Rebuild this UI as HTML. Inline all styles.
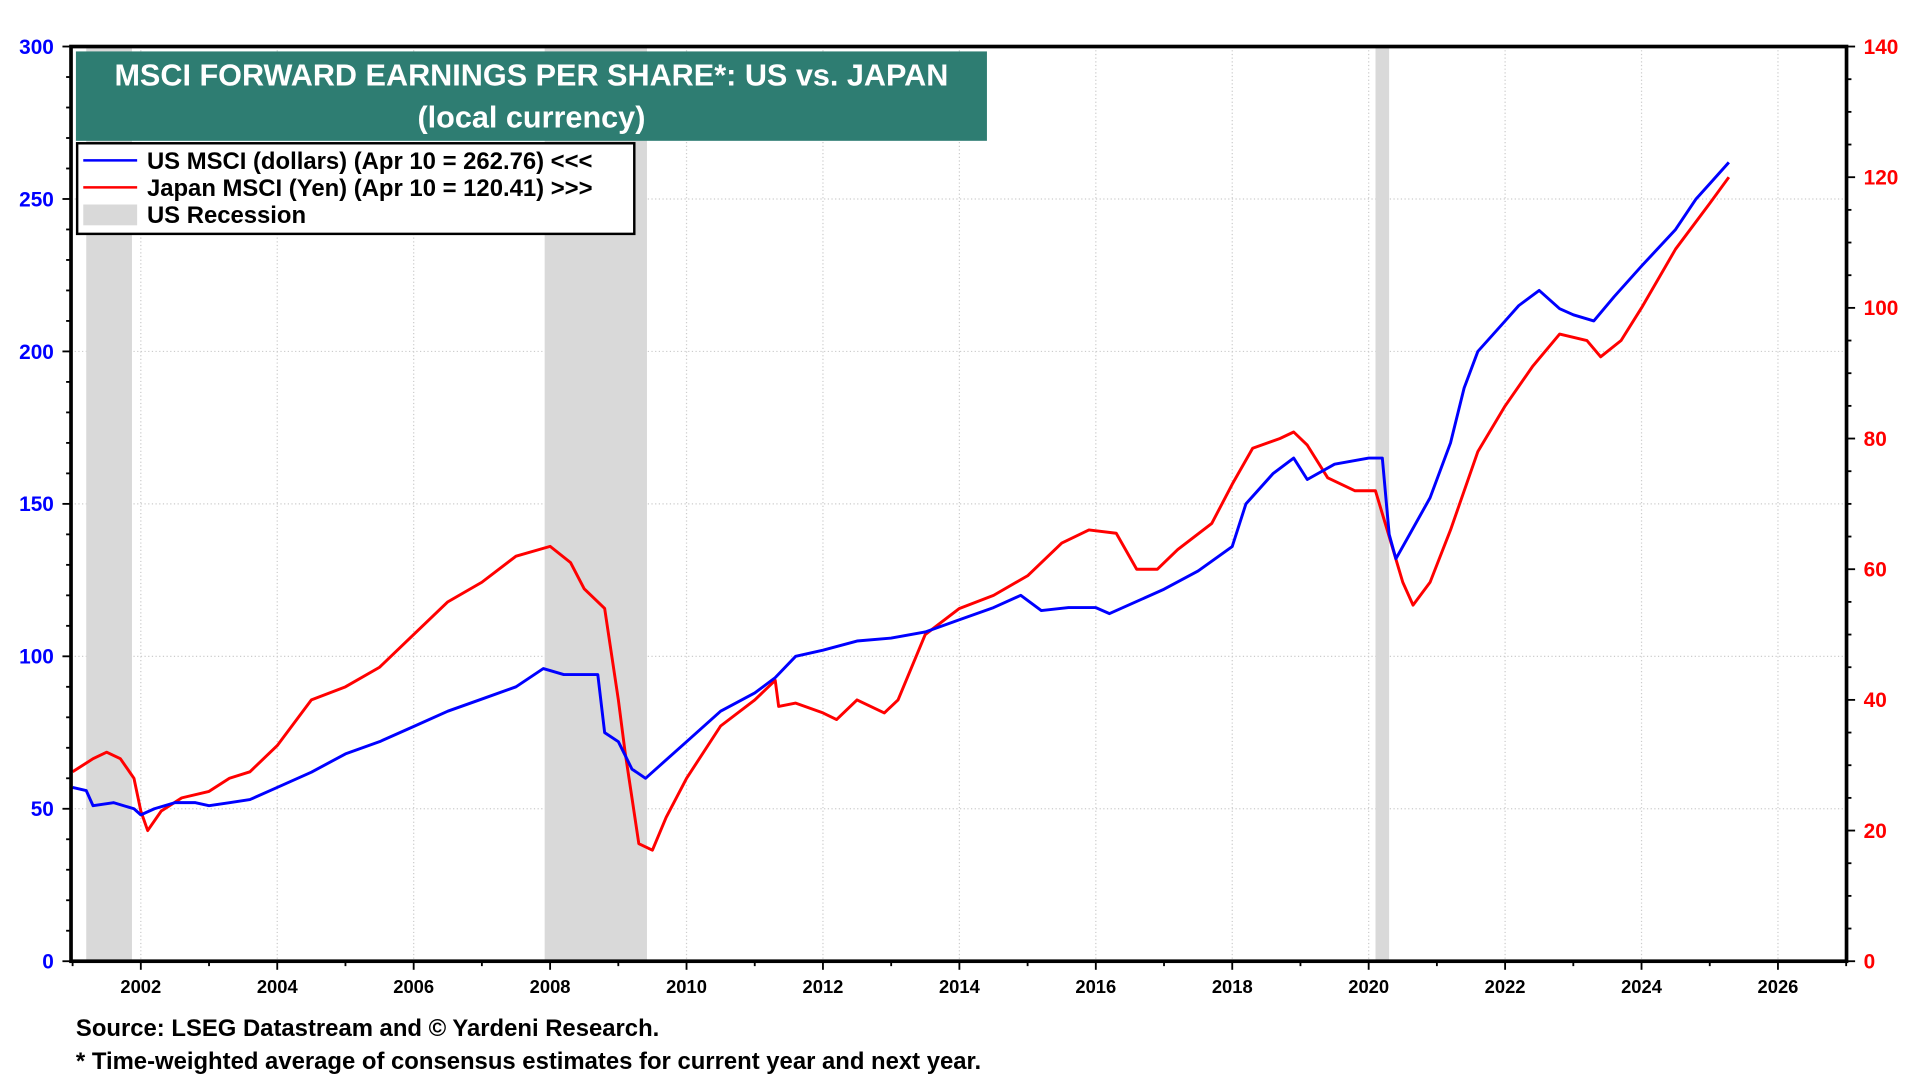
<!DOCTYPE html>
<html><head><meta charset="utf-8"><style>
html,body{margin:0;padding:0;background:#fff;width:1920px;height:1080px;overflow:hidden}
svg{display:block;font-family:"Liberation Sans",Arial,sans-serif;font-weight:bold}
</style></head><body>
<svg id="chart" width="1920" height="1080" viewBox="0 0 1568 882" xmlns="http://www.w3.org/2000/svg">
<g id="grid"></g>
<g id="rec"></g>
<g id="lines"></g>
<rect x="58" y="38" width="1450" height="747" fill="none" stroke="#000" stroke-width="3"/>
<g id="axes"></g>
<g>
<rect x="62" y="42" width="744" height="73" fill="#2e7d72"/>
<text x="434" y="70" fill="#fff" font-size="25" text-anchor="middle">MSCI FORWARD EARNINGS PER SHARE*: US vs. JAPAN</text>
<text x="434" y="104" fill="#fff" font-size="25" text-anchor="middle">(local currency)</text>
</g>
<g>
<rect x="63" y="117" width="455" height="74" fill="#fff" stroke="#000" stroke-width="2"/>
<line x1="68" y1="131" x2="112" y2="131" stroke="#0000ff" stroke-width="2"/>
<text x="120" y="138" font-size="19.5">US MSCI (dollars) (Apr 10 = 262.76) &lt;&lt;&lt;</text>
<line x1="68" y1="153" x2="112" y2="153" stroke="#ff0000" stroke-width="2"/>
<text x="120" y="160" font-size="19.5">Japan MSCI (Yen) (Apr 10 = 120.41) &gt;&gt;&gt;</text>
<rect x="68" y="167" width="44" height="17" fill="#d9d9d9"/>
<text x="120" y="182" font-size="19.5">US Recession</text>
</g>
<text x="62" y="846" font-size="19.5">Source: LSEG Datastream and © Yardeni Research.</text>
<text x="62" y="873" font-size="19.5">* Time-weighted average of consensus estimates for current year and next year.</text>
</svg>
<script>
const usYears=[2001.0,2001.2,2001.3,2001.6,2001.9,2002.0,2002.2,2002.5,2002.8,2003.0,2003.3,2003.6,2004.0,2004.5,2005.0,2005.5,2006.0,2006.5,2007.0,2007.5,2007.9,2008.2,2008.5,2008.7,2008.8,2009.0,2009.2,2009.4,2009.6,2010.0,2010.5,2011.0,2011.3,2011.6,2012.0,2012.5,2013.0,2013.5,2014.0,2014.5,2014.9,2015.2,2015.6,2016.0,2016.2,2016.6,2017.0,2017.5,2018.0,2018.2,2018.6,2018.9,2019.1,2019.5,2020.0,2020.2,2020.3,2020.4,2020.6,2020.9,2021.2,2021.4,2021.6,2022.0,2022.2,2022.5,2022.8,2023.0,2023.3,2023.6,2024.0,2024.5,2024.8,2025.0,2025.28];
const usValues=[57,56,51,52,50,48,50,52,52,51,52,53,57,62,68,72,77,82,86,90,96,94,94,94,75,72,63,60,64,72,82,88,93,100,102,105,106,108,112,116,120,115,116,116,114,118,122,128,136,150,160,165,158,163,165,165,140,132,140,152,170,188,200,210,215,220,214,212,210,218,228,240,250,255,262];
const jpYears=[2001.0,2001.3,2001.5,2001.7,2001.9,2002.0,2002.1,2002.3,2002.6,2003.0,2003.3,2003.6,2004.0,2004.5,2005.0,2005.5,2006.0,2006.5,2007.0,2007.5,2008.0,2008.3,2008.5,2008.8,2009.0,2009.1,2009.2,2009.3,2009.5,2009.7,2010.0,2010.5,2011.0,2011.3,2011.35,2011.6,2012.0,2012.2,2012.5,2012.9,2013.1,2013.5,2014.0,2014.5,2015.0,2015.5,2015.9,2016.3,2016.6,2016.9,2017.2,2017.7,2018.0,2018.3,2018.7,2018.9,2019.1,2019.4,2019.8,2020.1,2020.3,2020.5,2020.65,2020.9,2021.2,2021.6,2022.0,2022.4,2022.8,2023.2,2023.4,2023.7,2024.0,2024.5,2025.0,2025.28];
const jpValues=[29,31,32,31,28,23,20,23,25,26,28,29,33,40,42,45,50,55,58,62,63.5,61,57,54,40,32,25,18,17,22,28,36,40,43,39,39.5,38,37,40,38,40,50,54,56,59,64,66,65.5,60,60,63,67,73,78.5,80,81,79,74,72,72,65,58,54.5,58,66,78,85,91,96,95,92.5,95,100,109,116,120];
const recStart=[2001.2,2007.92,2020.1];
const recEnd=[2001.87,2009.42,2020.3];
const leftTicks=[0,50,100,150,200,250,300];
const rightTicks=[0,20,40,60,80,100,120,140];
const yearTicks=[2002,2004,2006,2008,2010,2012,2014,2016,2018,2020,2022,2024,2026];

const NS="http://www.w3.org/2000/svg";
const X0=58,X1=1508,Y0=785,Y1=38;
const xs=y=>115+(y-2002)*(1452-115)/24;
const yl=v=>Y0-(v/300)*(Y0-Y1);
const yr=v=>Y0-(v/140)*(Y0-Y1);
function mk(tag,attrs,parent){const e=document.createElementNS(NS,tag);for(const k in attrs)e.setAttribute(k,attrs[k]);parent.appendChild(e);return e;}
const grid=document.getElementById('grid'),rec=document.getElementById('rec'),lines=document.getElementById('lines'),axes=document.getElementById('axes');
leftTicks.forEach(v=>{
  const g=mk('line',{x1:X0,x2:X1,y1:yl(v),y2:yl(v),stroke:'#ccc','stroke-dasharray':'1,2','stroke-width':1},grid);
  
  
  const t=mk('text',{x:44,y:yl(v)+6,'font-size':17,fill:'#0000ff','text-anchor':'end'},axes);t.textContent=v;
  
  
});
for(let v=0;v<=300;v+=10){const l=mk('line',{x1:X0-(v%50?4:7),x2:X0,y1:yl(v),y2:yl(v),stroke:'#000','stroke-width':1.5},axes);
  
  }
rightTicks.forEach(v=>{
  const t=mk('text',{x:1522,y:yr(v)+6,'font-size':17,fill:'#ff0000'},axes);t.textContent=v;
  
  
});
for(let v=0;v<=140;v+=5){const l=mk('line',{x1:X1,x2:X1+(v%20?4:7),y1:yr(v),y2:yr(v),stroke:'#000','stroke-width':1.5},axes);
  
  }
for(let y=2001;y<=2027;y++){
  const l=mk('line',{x1:xs(y),x2:xs(y),y1:Y0,y2:Y0+(y%2?4:7),stroke:'#000','stroke-width':1.5},axes);
  
  
}
yearTicks.forEach(y=>{
  const g=mk('line',{x1:xs(y),x2:xs(y),y1:Y1,y2:Y0,stroke:'#ccc','stroke-dasharray':'1,2','stroke-width':1},grid);
  
  
  const t=mk('text',{x:xs(y),y:811,'font-size':15,'text-anchor':'middle'},axes);t.textContent=y;
  
  
});
recStart.forEach((s,i)=>{
  const r=mk('rect',{x:xs(s),y:Y1,width:xs(recEnd[i])-xs(s),height:Y0-Y1,fill:'#d9d9d9'},rec);
  
  
});
function path(xsArr,vs,yf,color,name){
  const d=xsArr.map((y,i)=>(i?'L':'M')+xs(y).toFixed(1)+','+yf(vs[i]).toFixed(1)).join('');
  const p=mk('path',{d:d,fill:'none',stroke:color,'stroke-width':2.4,'stroke-linejoin':'round'},lines);
  
  
}
path(jpYears,jpValues,yr,'#ff0000','japan-line');
path(usYears,usValues,yl,'#0000ff','us-line');
</script>
</body></html>
